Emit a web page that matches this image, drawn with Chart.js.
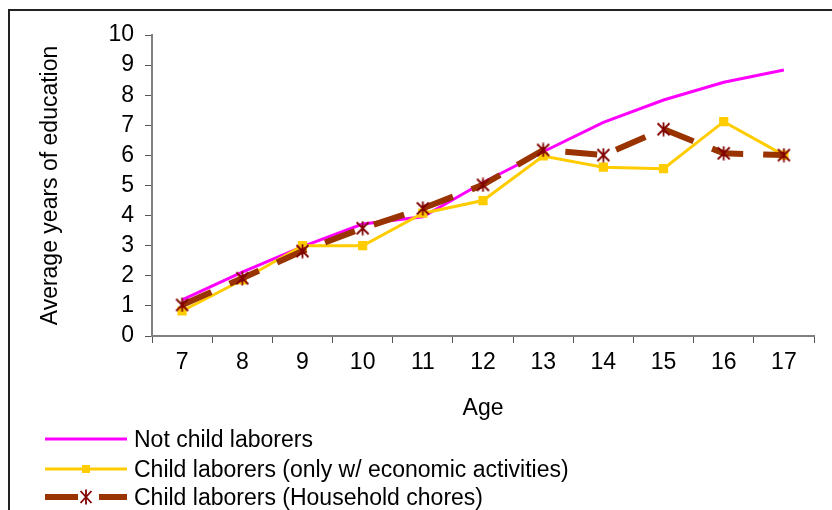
<!DOCTYPE html>
<html>
<head>
<meta charset="utf-8">
<script src="https://cdn.jsdelivr.net/npm/chart.js@4/dist/chart.umd.min.js"></script>
<style>
  html, body { margin: 0; padding: 0; background: #fff; }
  #wrap { position: relative; width: 832px; height: 510px; overflow: hidden; background: #fff; }
  #frame { position: absolute; left: 8px; top: 9px; width: 900px; height: 600px;
           border-top: 2px solid #222; border-left: 2px solid #222; pointer-events: none; }
  canvas#c { position: absolute; left: 0; top: 0; }
  #legend { position: absolute; left: 0; top: 0; width: 832px; height: 510px; pointer-events: none;
            font-family: 'Liberation Sans', Arial, sans-serif; font-size: 23px; color: #000; }
  .row { position: absolute; left: 45px; height: 28px; display: flex; align-items: center; white-space: nowrap; }
  .row svg { width: 82px; height: 28px; margin-right: 7px; flex: none; }
</style>
</head>
<body>
<div id="wrap">
  <canvas id="c" width="832" height="510"></canvas>
  <div id="frame"></div>
  <div id="legend"></div>
</div>
<script>
const ages = ['7', '8', '9', '10', '11', '12', '13', '14', '15', '16', '17'];
const notChildLaborers = [1.2, 2.12, 2.97, 3.72, 3.96, 5.1, 6.12, 7.1, 7.84, 8.43, 8.84];
const economicOnly = [0.83, 1.86, 3.0, 3.0, 4.08, 4.5, 5.98, 5.61, 5.56, 7.12, 6.01];
const householdChores = [1.03, 1.92, 2.82, 3.58, 4.24, 5.02, 6.18, 6.01, 6.87, 6.07, 6.01];
const seriesNames = ['Not child laborers', 'Child laborers (only w/ economic activities)', 'Child laborers (Household chores)'];
const yTicks = [0, 1, 2, 3, 4, 5, 6, 7, 8, 9, 10];

const FONT = "'Liberation Sans', Arial, sans-serif";
const FS = 23;
const PINK = '#FF00FF', YELLOW = '#FFCC00', BROWN = '#993300', MAROON = '#800000';

// asterisk marker (X with vertical bar)
function starImg(size) {
  const c = document.createElement('canvas');
  c.width = size; c.height = size;
  const g = c.getContext('2d');
  g.strokeStyle = MAROON; g.lineWidth = 1.8;
  const m = 1.5, s = size - 1.5;
  g.beginPath();
  g.moveTo(m, m); g.lineTo(s, s);
  g.moveTo(s, m); g.lineTo(m, s);
  g.moveTo(size / 2, 0.5); g.lineTo(size / 2, size - 0.5);
  g.stroke();
  return c;
}
const star = starImg(15);

new Chart(document.getElementById('c'), {
  type: 'line',
  data: {
    labels: ages,
    datasets: [
      { label: seriesNames[0], data: notChildLaborers, borderColor: PINK, backgroundColor: PINK,
        borderWidth: 3, pointRadius: 0, tension: 0, order: 3 },
      { label: seriesNames[1], data: economicOnly, borderColor: YELLOW, backgroundColor: YELLOW,
        borderWidth: 3, pointStyle: 'rect', pointRadius: 6.5, pointBorderWidth: 0, tension: 0, order: 2 },
      { label: seriesNames[2], data: householdChores, borderColor: BROWN, backgroundColor: BROWN,
        borderWidth: 6, borderDash: [32, 20], borderCapStyle: 'butt', pointStyle: star, pointRadius: 7.5, tension: 0, order: 1 }
    ]
  },
  options: {
    responsive: false,
    animation: false,
    devicePixelRatio: 1,
    layout: { padding: { left: 0, top: 35, right: 18, bottom: 84 } },
    plugins: { legend: { display: false }, tooltip: { enabled: false } },
    scales: {
      x: {
        type: 'category',
        offset: true,
        grid: { display: true, offset: true, drawOnChartArea: false, drawTicks: true, tickLength: 7, color: '#555', lineWidth: 1 },
        border: { display: true, color: '#808080', width: 2 },
        ticks: { color: '#000', font: { family: FONT, size: FS }, padding: 6, maxRotation: 0, autoSkip: false },
        title: { display: true, text: 'Age', color: '#000', font: { family: FONT, size: FS }, padding: { top: 0, bottom: 4 } },
        afterFit: s => { s.height = 90; }
      },
      y: {
        min: 0, max: 10,
        afterBuildTicks: s => { s.ticks = yTicks.map(v => ({ value: v })); },
        grid: { display: true, drawOnChartArea: false, drawTicks: true, tickLength: 7, color: '#555', lineWidth: 1 },
        border: { display: true, color: '#808080', width: 2 },
        ticks: { color: '#000', font: { family: FONT, size: FS }, padding: 11, autoSkip: false },
        title: { display: true, text: 'Average years of education', color: '#000', font: { family: FONT, size: FS }, padding: { top: 37, bottom: 0 } },
        afterFit: s => { s.width = 152; }
      }
    }
  }
});

// Legend (HTML)
const legend = document.getElementById('legend');
const rowsY = [439, 469, 497];
const samples = [
  `<svg viewBox="0 0 82 28"><line x1="0" y1="14" x2="82" y2="14" stroke="${PINK}" stroke-width="3"/></svg>`,
  `<svg viewBox="0 0 82 28"><line x1="0" y1="14" x2="82" y2="14" stroke="${YELLOW}" stroke-width="3"/><rect x="37" y="10" width="8" height="8" fill="${YELLOW}"/></svg>`,
  `<svg viewBox="0 0 82 28"><line x1="0" y1="14" x2="33" y2="14" stroke="${BROWN}" stroke-width="6"/><line x1="54" y1="14" x2="82" y2="14" stroke="${BROWN}" stroke-width="6"/>
     <g stroke="${MAROON}" stroke-width="1.8"><line x1="35.5" y1="8" x2="46.5" y2="20"/><line x1="46.5" y1="8" x2="35.5" y2="20"/><line x1="41" y1="6.5" x2="41" y2="21.5"/></g></svg>`
];
seriesNames.forEach((name, i) => {
  const row = document.createElement('div');
  row.className = 'row';
  row.style.top = (rowsY[i] - 14) + 'px';
  row.innerHTML = samples[i] + '<span>' + name + '</span>';
  legend.appendChild(row);
});
</script>
</body>
</html>
